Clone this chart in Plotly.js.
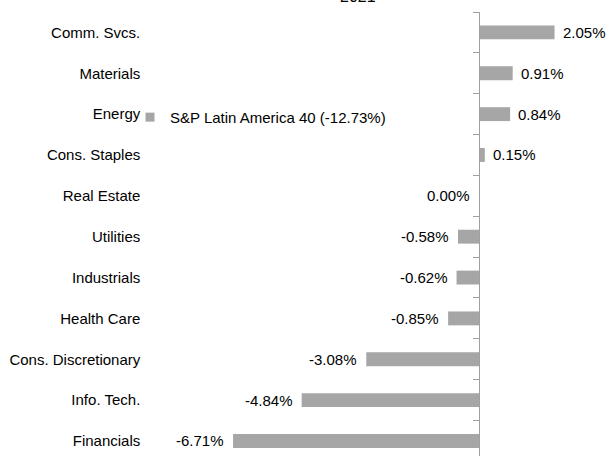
<!DOCTYPE html>
<html>
<head>
<meta charset="utf-8">
<script src="https://cdn.plot.ly/plotly-3.0.1.min.js"></script>
<style>html,body{margin:0;padding:0;background:#fff;}#chart{width:608px;height:456px;}</style>
</head>
<body>
<div id="chart"></div>
<script>
const sectors = ["Comm. Svcs.", "Materials", "Energy", "Cons. Staples", "Real Estate", "Utilities", "Industrials", "Health Care", "Cons. Discretionary", "Info. Tech.", "Financials"];
const contributions = [2.05, 0.91, 0.84, 0.15, 0.00, -0.58, -0.62, -0.85, -3.08, -4.84, -6.71];
const seriesName = "S&P Latin America 40 (-12.73%)";
const chartTitle = "2021";

const W = 608, H = 456;
const zeroPx = 479.3, pxPerUnit = 36.7, topPx = 11.5, rowPx = 40.9;
const xMin = -zeroPx / pxPerUnit, xMax = (W - zeroPx) / pxPerUnit;
const nRows = (H - topPx) / rowPx;
const barColor = "#a6a6a6";

const font = {family: "'Liberation Sans', Arial, sans-serif", size: 15, color: "#000"};

const barTrace = {
  type: "bar",
  orientation: "h",
  x: contributions,
  y: sectors,
  name: seriesName,
  legendgroup: "s",
  marker: {color: barColor},
  showlegend: false,
  hoverinfo: "skip"
};
// legend key for the bar series (square marker, no points)
const legendKey = {
  type: "scatter",
  mode: "markers",
  x: [null], y: [null],
  name: seriesName,
  legendgroup: "s",
  marker: {symbol: "square", size: 9, color: barColor},
  showlegend: true,
  hoverinfo: "skip"
};

const annotations = contributions.map((v, i) => ({
  x: v, y: sectors[i], xref: "x", yref: "y",
  text: v.toFixed(2) + "%",
  showarrow: false,
  xanchor: v > 0 ? "left" : "right",
  xshift: v > 0 ? 6 : -7,
  font: font
}));
annotations.push({
  xref: "paper", yref: "paper", x: 358 / W, y: 1,
  xanchor: "center", yanchor: "bottom", yshift: 5,
  text: chartTitle, showarrow: false,
  font: {family: font.family, size: 16, color: "#000"}
});

const layout = {
  width: W, height: H,
  margin: {l: 0, r: 0, t: topPx, b: 0, pad: 0},
  paper_bgcolor: "#fff", plot_bgcolor: "#fff",
  font: font,
  bargap: 0.66,
  showlegend: true,
  legend: {
    x: 130 / W, y: 1 - (117 - topPx) / (H - topPx),
    xanchor: "left", yanchor: "middle",
    bgcolor: "rgba(0,0,0,0)", font: font
  },
  xaxis: {visible: false, range: [xMin, xMax], fixedrange: true},
  yaxis: {
    type: "category",
    range: [-0.5 + nRows, -0.5],
    anchor: "free", position: zeroPx / W,
    showline: true, linecolor: "#a0a0a0", linewidth: 1,
    ticks: "outside", tickson: "boundaries", ticklen: 6, tickcolor: "#a0a0a0",
    showgrid: false, zeroline: false,
    ticklabelstandoff: 336,
    automargin: false,
    tickfont: font
  },
  annotations: annotations
};

Plotly.newPlot("chart", [barTrace, legendKey], layout, {displayModeBar: false, staticPlot: true});
</script>
</body>
</html>
